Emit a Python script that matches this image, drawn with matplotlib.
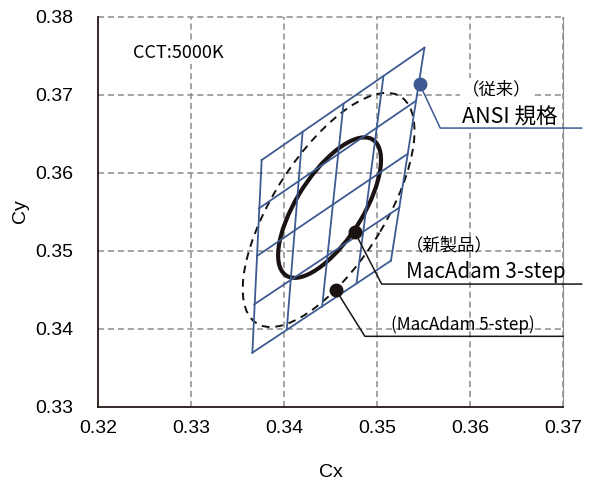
import matplotlib
matplotlib.use('Agg')
import matplotlib.pyplot as plt
from matplotlib.patches import Ellipse

# ---------------- data ----------------
xticks = [0.32, 0.33, 0.34, 0.35, 0.36, 0.37]
yticks = [0.33, 0.34, 0.35, 0.36, 0.37, 0.38]

# ANSI 5000K quadrangle, node points along the four edges
top_x = [0.3376, 0.3420, 0.3464, 0.3507, 0.3551]
top_y = [0.3616, 0.3652, 0.3688, 0.3724, 0.3760]
bot_x = [0.3366, 0.3403, 0.3441, 0.3478, 0.3515]
bot_y = [0.3369, 0.3399, 0.3428, 0.3458, 0.3487]
left_x = [0.3366, 0.3368, 0.3371, 0.3373, 0.3376]
left_y = [0.3369, 0.3431, 0.3493, 0.3554, 0.3616]
right_x = [0.3515, 0.3524, 0.3533, 0.3542, 0.3551]
right_y = [0.3487, 0.3555, 0.3624, 0.3692, 0.3760]

# MacAdam ellipses (center x, center y, semi-major, semi-minor, angle deg)
mac3 = (0.3449, 0.3555, 0.0099, 0.0037, 63.4)
mac5 = (0.3448, 0.3552, 0.0165, 0.0062, 63.4)

# marked points and their leader lines
ansi_pt = (0.3546, 0.3713)
mac3_pt = (0.3476, 0.3524)
mac5_pt = (0.3456, 0.3449)
ansi_lead_x = [0.3546, 0.3568, 0.3720]
ansi_lead_y = [0.3713, 0.3657, 0.3657]
mac3_lead_x = [0.3476, 0.3505, 0.3720]
mac3_lead_y = [0.3524, 0.3457, 0.3457]
mac5_lead_x = [0.3456, 0.3487, 0.3700]
mac5_lead_y = [0.3449, 0.3390, 0.3390]

blue = '#3d5b92'
dark = '#1a1311'
gridc = '#8c8c8c'
cjk = ['Noto Sans CJK JP', 'DejaVu Sans']

fig = plt.figure(figsize=(5.91, 4.82), dpi=100)
ax = fig.add_axes([0.1658, 0.1566, 0.7868, 0.8091])

# grid
for x in xticks[1:]:
    ax.axvline(x, color=gridc, lw=1.1, ls=(0, (4, 2.5)), zorder=1)
for y in yticks[1:]:
    ax.axhline(y, color=gridc, lw=1.1, ls=(0, (4, 2.5)), zorder=1, clip_on=False)

# ellipses
cx, cy, a, b, ang = mac5
ax.add_patch(Ellipse((cx, cy), 2*a, 2*b, angle=ang, fill=False,
                     ec='#111111', lw=1.4, ls=(0, (4, 3)), zorder=2))
cx, cy, a, b, ang = mac3
ax.add_patch(Ellipse((cx, cy), 2*a, 2*b, angle=ang, fill=False,
                     ec=dark, lw=3.0, zorder=2))

# quadrangle
for i in range(len(top_x)):
    ax.plot([bot_x[i], top_x[i]], [bot_y[i], top_y[i]], color=blue, lw=1.3, zorder=3)
    ax.plot([left_x[i], right_x[i]], [left_y[i], right_y[i]], color=blue, lw=1.3, zorder=3)

# texts
wbox = dict(boxstyle='square,pad=0.1', fc='white', ec='none')
ax.text(0.3238, 0.3753, 'CCT:5000K', family=cjk, fontsize=13, va='center',
        bbox=wbox, zorder=6)
ax.text(0.3591, 0.3707, '（従来）', family=cjk, fontsize=12.5, va='center',
        bbox=wbox, zorder=6)
ax.text(0.3591, 0.3671, 'ANSI 規格', family=cjk, fontsize=15.5, va='center',
        bbox=wbox, zorder=6, clip_on=False)
ax.text(0.3531, 0.3507, '（新製品）', family=cjk, fontsize=12.5, va='center', zorder=6)
ax.text(0.3531, 0.3473, 'MacAdam 3-step', family=cjk, fontsize=14.8, va='center', zorder=6)
ax.text(0.3515, 0.3405, '(MacAdam 5-step)', family=cjk, fontsize=12.3, va='center', zorder=6)

# leaders and markers
ax.plot(ansi_lead_x, ansi_lead_y, color=blue, lw=1.1, zorder=7, clip_on=False)
ax.plot(mac3_lead_x, mac3_lead_y, color=dark, lw=1.1, zorder=7, clip_on=False)
ax.plot(mac5_lead_x, mac5_lead_y, color=dark, lw=1.1, zorder=7, clip_on=False)
ax.plot(*ansi_pt, 'o', color=blue, ms=9, zorder=8)
ax.plot(*mac3_pt, 'o', color=dark, ms=9, zorder=8)
ax.plot(*mac5_pt, 'o', color=dark, ms=9, zorder=8)

ax.set_xlim(0.32, 0.37)
ax.set_ylim(0.33, 0.38)
ax.set_xticks(xticks)
ax.set_yticks(yticks)
ax.set_xticklabels(['%.2f' % v for v in xticks], family='Liberation Sans', fontsize=14)
ax.set_yticklabels(['%.2f' % v for v in yticks], family='Liberation Sans', fontsize=14)
ax.tick_params(axis='both', length=0)
ax.tick_params(axis='x', pad=10)
ax.tick_params(axis='y', pad=18)
ax.set_xlabel('Cx', family='Liberation Sans', fontsize=14, labelpad=19)
ax.set_ylabel('Cy', family='Liberation Sans', fontsize=14, labelpad=4)

ax.spines['top'].set_visible(False)
ax.spines['right'].set_color(gridc)
ax.spines['left'].set_color('#231815')
ax.spines['bottom'].set_color('#231815')
ax.spines['left'].set_linewidth(1.3)
ax.spines['bottom'].set_linewidth(1.3)

fig.savefig('out.png', dpi=100)
